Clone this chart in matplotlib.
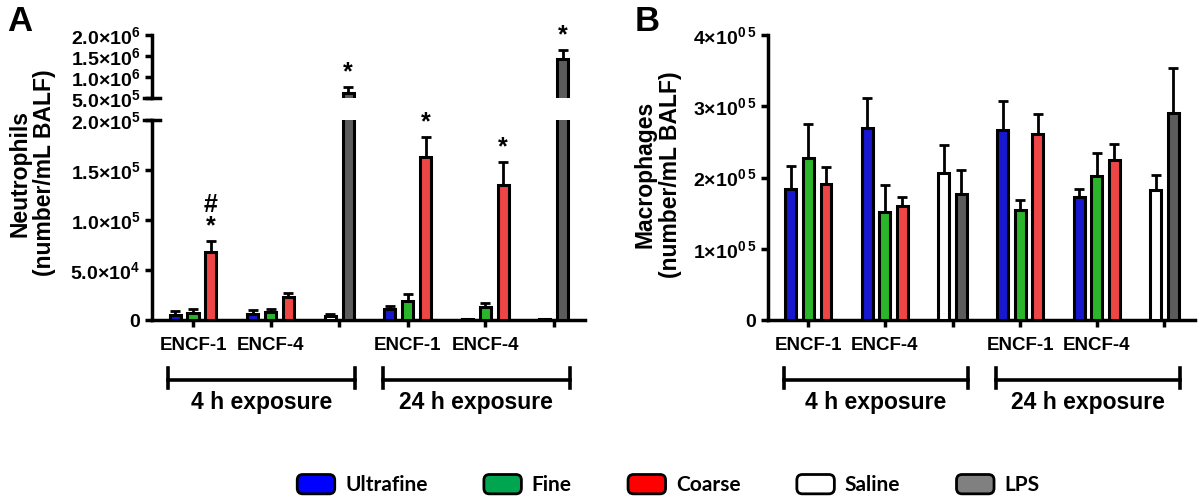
import numpy as np
import matplotlib.pyplot as plt
import matplotlib.transforms as mtransforms
from matplotlib.patches import FancyBboxPatch, Patch
from matplotlib.legend_handler import HandlerPatch

plt.rcParams['font.family'] = ['Liberation Sans', 'DejaVu Sans']
plt.rcParams['font.weight'] = 'bold'
plt.rcParams['mathtext.fontset'] = 'custom'
plt.rcParams['mathtext.rm'] = 'Liberation Sans:bold'
plt.rcParams['mathtext.default'] = 'rm'

nan = np.nan

### Data ###
# groups: ENCF-1 4h, ENCF-4 4h, controls 4h, ENCF-1 24h, ENCF-4 24h, controls 24h
tick_labels = ["ENCF-1", "ENCF-4", "", "ENCF-1", "ENCF-4", ""]
exposures = ["4 h exposure", "24 h exposure"]
series = ["Ultrafine", "Fine", "Coarse", "Saline", "LPS"]

# Neutrophils (number/mL BALF)
neut_ultrafine = [5000, 6000, nan, 11000, 800, nan]
neut_ultrafine_err = [4000, 4000, nan, 3000, 0, nan]
neut_fine = [7000, 8000, nan, 19000, 13000, nan]
neut_fine_err = [4500, 3500, nan, 7000, 4500, nan]
neut_coarse = [68000, 23000, nan, 163000, 135000, nan]
neut_coarse_err = [11000, 4000, nan, 20000, 23000, nan]
neut_saline = [nan, nan, 4000, nan, nan, 800]
neut_saline_err = [nan, nan, 2000, nan, nan, 0]
neut_lps = [nan, nan, 630000, nan, nan, 1440000]
neut_lps_err = [nan, nan, 120000, nan, nan, 200000]
neut_sig_coarse = ["#\n*", "", "", "*", "*", ""]
neut_sig_lps = ["", "", "*", "", "", "*"]

# Macrophages (number/mL BALF)
mac_ultrafine = [184000, 269000, nan, 266000, 172000, nan]
mac_ultrafine_err = [32000, 42000, nan, 42000, 12000, nan]
mac_fine = [228000, 151000, nan, 154000, 202000, nan]
mac_fine_err = [47000, 38000, nan, 15000, 32000, nan]
mac_coarse = [191000, 160000, nan, 261000, 224000, nan]
mac_coarse_err = [24000, 13000, nan, 28000, 23000, nan]
mac_saline = [nan, nan, 207000, nan, nan, 183000]
mac_saline_err = [nan, nan, 38000, nan, nan, 21000]
mac_lps = [nan, nan, 177000, nan, nan, 290000]
mac_lps_err = [nan, nan, 34000, nan, nan, 63000]

bar_colors = ["#1818d0", "#2bb52b", "#ee4545", "#ffffff", "#5c5c5c"]
legend_colors = ["#0000ff", "#00a550", "#ff0000", "#ffffff", "#808080"]

neut = [(neut_ultrafine, neut_ultrafine_err), (neut_fine, neut_fine_err),
        (neut_coarse, neut_coarse_err), (neut_saline, neut_saline_err),
        (neut_lps, neut_lps_err)]
mac = [(mac_ultrafine, mac_ultrafine_err), (mac_fine, mac_fine_err),
       (mac_coarse, mac_coarse_err), (mac_saline, mac_saline_err),
       (mac_lps, mac_lps_err)]
neut_sig = [None, None, neut_sig_coarse, None, neut_sig_lps]

### Layout of bar positions ###
gap = 1.35
ngroups = len(tick_labels)
pos = np.full((len(series), ngroups), nan)
x = 0.0
centers = []
for g in range(ngroups):
    members = [s for s in range(len(series)) if not np.isnan(neut[s][0][g])]
    for k, s in enumerate(members):
        pos[s, g] = x + k
    centers.append(x + (len(members) - 1) / 2)
    x += len(members) + gap

width = 0.62
lw_edge = 2.2
spine_w = 2.5


def draw_bars(ax, data):
    for s, (vals, errs) in enumerate(data):
        vals = np.array(vals, float)
        errs = np.array(errs, float)
        m = ~np.isnan(vals)
        ax.errorbar(pos[s, m], vals[m], yerr=[np.zeros(m.sum()), errs[m]], fmt='none',
                    ecolor='black', elinewidth=2, capsize=3.5, capthick=2, zorder=2)
        ax.bar(pos[s, m], vals[m], width=width, color=bar_colors[s], edgecolor='black',
               linewidth=lw_edge, zorder=3)


def style_axis(ax):
    for sp in ['top', 'right']:
        ax.spines[sp].set_visible(False)
    for sp in ['left', 'bottom']:
        ax.spines[sp].set_linewidth(spine_w)
    ax.tick_params(axis='both', which='major', length=5, width=spine_w, labelsize=14)
    ax.set_xlim(-1.3, 23.0)


def x_axis(ax, fig):
    ax.set_xticks(centers)
    ax.set_xticklabels(tick_labels, fontsize=13.5, fontweight='bold')
    ax.tick_params(axis='x', pad=7)
    # exposure brackets below the axis
    tr = mtransforms.blended_transform_factory(ax.transData, fig.transFigure)
    for i, label in enumerate(exposures):
        gi = list(range(3 * i, 3 * i + 3))
        xs = pos[:, gi]
        x0 = np.nanmin(xs) - 0.4
        x1 = np.nanmax(xs) + 0.4
        ax.plot([x0, x1], [0.2445, 0.2445], color='black', lw=2.6, transform=tr, clip_on=False)
        for xe in (x0, x1):
            ax.plot([xe, xe], [0.2286, 0.2684], color='black', lw=2.6, transform=tr, clip_on=False)
        ax.text((x0 + x1) / 2, 0.199, label, transform=tr, ha='center', va='center',
                fontsize=16.5, fontweight='bold')


fig = plt.figure(figsize=(12, 5.03), dpi=100)

### Panel A (broken axis) ###
axA = fig.add_axes([0.1267, 0.3638, 0.3608, 0.3976])
axAu = fig.add_axes([0.1267, 0.8052, 0.3608, 0.1252])
for ax in (axA, axAu):
    draw_bars(ax, neut)
    style_axis(ax)
axA.set_ylim(0, 2e5)
axA.set_yticks([0, 5e4, 1e5, 1.5e5, 2e5])
axA.set_yticklabels(["0", "5.0×10$^{4}$", "1.0×10$^{5}$", "1.5×10$^{5}$", "2.0×10$^{5}$"])
axAu.set_ylim(5e5, 2e6)
axAu.set_yticks([5e5, 1e6, 1.5e6, 2e6])
axAu.set_yticklabels(["5.0×10$^{5}$", "1.0×10$^{6}$", "1.5×10$^{6}$", "2.0×10$^{6}$"])
axAu.spines['bottom'].set_visible(False)
axAu.set_xticks([])
axAu.patch.set_visible(False)
# break caps
axA.plot([-0.018, 0.018], [1, 1], color='black', lw=spine_w, transform=axA.transAxes, clip_on=False)
axAu.plot([-0.018, 0.018], [0, 0], color='black', lw=spine_w, transform=axAu.transAxes, clip_on=False)
x_axis(axA, fig)

# significance markers
for s, sig in enumerate(neut_sig):
    if sig is None:
        continue
    vals, errs = neut[s]
    for g, mark in enumerate(sig):
        if not mark:
            continue
        top = vals[g] + errs[g]
        ax = axAu if top > 2e5 else axA
        ax.annotate(mark, xy=(pos[s, g], top), xytext=(0, 2), textcoords='offset points',
                    ha='center', va='bottom', fontsize=18, fontweight='bold',
                    linespacing=0.85, annotation_clip=False)

fig.text(0.027, 0.656, "Neutrophils\n(number/mL BALF)", rotation=90, ha='center', va='center',
         fontsize=16.5, fontweight='bold', linespacing=1.05)
fig.text(0.006, 0.99, "A", fontsize=25, fontweight='bold', ha='left', va='top')

### Panel B ###
axB = fig.add_axes([0.64, 0.3638, 0.356, 0.5666])
draw_bars(axB, mac)
style_axis(axB)
axB.set_ylim(0, 4e5)
axB.set_yticks([0, 1e5, 2e5, 3e5, 4e5])
axB.set_yticklabels(["0", "1×10$^{0\\,5}$", "2×10$^{0\\,5}$", "3×10$^{0\\,5}$", "4×10$^{0\\,5}$"])
x_axis(axB, fig)
fig.text(0.548, 0.653, "Macrophages\n(number/mL BALF)", rotation=90, ha='center', va='center',
         fontsize=16.5, fontweight='bold', linespacing=1.15)
fig.text(0.529, 0.99, "B", fontsize=25, fontweight='bold', ha='left', va='top')


### Legend with rounded swatches ###
class RoundHandler(HandlerPatch):
    def create_artists(self, legend, orig_handle, xdescent, ydescent, width, height, fontsize, trans):
        p = FancyBboxPatch((-xdescent, -ydescent), width, height,
                           boxstyle="round,pad=0,rounding_size=4",
                           facecolor=orig_handle.get_facecolor(), edgecolor='black',
                           linewidth=2, transform=trans)
        return [p]


handles = [Patch(facecolor=c) for c in legend_colors]
fig.legend(handles, series, loc='center', bbox_to_anchor=(0.557, 0.036), ncol=5, frameon=False,
           prop={'family': 'Lato', 'size': 15}, handlelength=1.8, handleheight=1.05,
           handletextpad=0.5, columnspacing=2.7,
           handler_map={Patch: RoundHandler()})

fig.savefig("out.png", dpi=100)
